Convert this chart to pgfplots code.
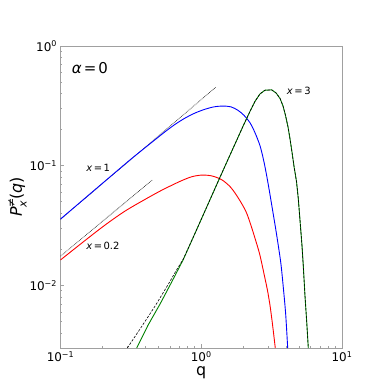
\documentclass[border=0pt]{standalone}
\usepackage{fontspec}
\setmainfont{DejaVu Sans}
\usepackage{pgfplots}
\pgfplotsset{compat=1.18}
\definecolor{framegray}{HTML}{A0A0A0}
\definecolor{mplgreen}{HTML}{008000}
\newcommand{\sz}[1]{\fontsize{#1}{#1}\selectfont}
\newcommand{\Plabel}{\textit{P}\makebox[0pt][l]{\raisebox{0.8ex}{\sz{11}≠}}\raisebox{-0.55ex}{\sz{11}\textit{x}}\kern1pt(\textit{q})}

\begin{document}
\begin{tikzpicture}
\begin{axis}[
  scale only axis, width=281.5bp, height=302bp,
  xmode=log, ymode=log,
  xmin=0.1, xmax=10, ymin=0.003, ymax=1,
  axis line style={framegray, line width=1pt},
  tick style={framegray, line width=0.8pt},
  tick align=inside, tick pos=left,
  major tick length=4bp, minor tick length=2bp,
  xtick={0.1,1,10},
  xticklabels={10\textsuperscript{−1},10\textsuperscript{0},10\textsuperscript{1}},
  ytick={0.01,0.1,1},
  yticklabels={10\textsuperscript{−2},10\textsuperscript{−1},10\textsuperscript{0}},
  minor xtick={0.2,0.3,0.4,0.5,0.6,0.7,0.8,0.9,2,3,4,5,6,7,8,9},
  minor ytick={0.004,0.005,0.006,0.007,0.008,0.009,0.02,0.03,0.04,0.05,0.06,0.07,0.08,0.09,0.2,0.3,0.4,0.5,0.6,0.7,0.8,0.9},
  ticklabel style={font=\sz{12}},
  xlabel={q}, ylabel={\Plabel},
  label style={font=\sz{16}},
  ylabel style={yshift=-4bp},
  xlabel style={yshift=2bp},
  clip=true,
]
% tangent lines (small q)
\addplot[black!80, line width=0.65bp, dash pattern=on 0.8bp off 0.8bp] coordinates {(0.1,0.0357) (1.267,0.452)};
\addplot[black!80, line width=0.65bp, dash pattern=on 0.8bp off 0.8bp] coordinates {(0.1,0.01754) (0.452,0.0765)};

% x = 1
\addplot[blue, line width=0.9bp, smooth] coordinates {
  (0.1,0.0358) (0.2129,0.0764) (0.3206,0.1148) (0.469,0.1647) (0.5527,0.1920)
  (0.651,0.2213) (0.7667,0.2497) (0.9028,0.2754) (1.063,0.2962) (1.232,0.3102)
  (1.427,0.3150) (1.627,0.3102) (1.824,0.2901) (2.012,0.2636) (2.221,0.2282)
  (2.410,0.1884) (2.615,0.1468) (2.769,0.1122) (2.908,0.0841) (3.054,0.0607)
  (3.208,0.0430) (3.369,0.0304) (3.527,0.02154) (3.687,0.01496) (3.841,0.00926)
  (3.981,0.00573) (4.113,0.003)};

% x = 0.2
\addplot[red, line width=0.9bp, smooth] coordinates {
  (0.1,0.01632) (0.1493,0.02371) (0.2071,0.03192) (0.2872,0.04176) (0.3986,0.05229)
  (0.5091,0.06131) (0.6197,0.06879) (0.7299,0.07525) (0.8597,0.0810) (1.0123,0.0835)
  (1.192,0.0821) (1.404,0.07612) (1.627,0.06557) (1.854,0.05259) (2.079,0.04137)
  (2.257,0.03162) (2.449,0.02326) (2.615,0.01778) (2.837,0.01144) (2.956,0.00908)
  (3.080,0.00681) (3.208,0.00473) (3.358,0.003)};

% x = 3
\addplot[mplgreen, line width=0.9bp] coordinates {
  (0.3478,0.003) (0.4183,0.004642) (0.5127,0.007079) (0.6197,0.0108) (0.7458,0.01647)
  (0.9028,0.02723) (1.099,0.04571) (1.337,0.07674) (1.575,0.1177) (1.786,0.1631)
  (1.980,0.2134) (2.221,0.2845) (2.410,0.3447) (2.615,0.3981) (2.837,0.4273)
  (3.166,0.4299) (3.397,0.4058) (3.626,0.3652) (3.808,0.3162) (3.967,0.2636)
  (4.133,0.2113) (4.271,0.1679) (4.414,0.1296) (4.560,0.0990) (4.752,0.0736)
  (4.892,0.0531) (5.072,0.0310) (5.197,0.02154) (5.309,0.01454) (5.458,0.00818)
  (5.612,0.00501) (5.762,0.003)};
\addplot[black, line width=0.6bp, dash pattern=on 2.5bp off 1.5bp] coordinates {
  (0.2983,0.003) (0.3763,0.004510) (0.4732,0.00681) (0.5853,0.01029) (0.6617,0.01321)
  (0.7458,0.01663) (0.9028,0.02723) (1.099,0.04571) (1.337,0.07674) (1.575,0.1177)
  (1.786,0.1631) (1.980,0.2134) (2.221,0.2845) (2.410,0.3447) (2.615,0.3981)
  (2.837,0.4273) (3.166,0.4299) (3.397,0.4058) (3.626,0.3652) (3.808,0.3162)
  (3.967,0.2636) (4.133,0.2113) (4.271,0.1679) (4.414,0.1296) (4.560,0.0990)
  (4.752,0.0736) (4.892,0.0531) (5.072,0.0310) (5.197,0.02154) (5.309,0.01454)
  (5.458,0.00818) (5.612,0.00501) (5.762,0.003)};

\node[anchor=west, font=\sz{15}, inner sep=0pt] at (rel axis cs:0.04,0.927) {\textit{α}\kern2pt=\kern2pt0};
\node[anchor=west, font=\sz{10}, inner sep=0pt] at (axis cs:0.152,0.0957) {\textit{x}\kern1.5pt=\kern1.5pt1};
\node[anchor=west, font=\sz{10}, inner sep=0pt] at (axis cs:0.152,0.02126) {\textit{x}\kern1.5pt=\kern1.5pt0.2};
\node[anchor=west, font=\sz{10}, inner sep=0pt] at (axis cs:4.05,0.424) {\textit{x}\kern1.5pt=\kern1.5pt3};
\end{axis}
\path (-60.5bp,-44bp) rectangle (320.5bp,348bp);
\end{tikzpicture}
\end{document}
